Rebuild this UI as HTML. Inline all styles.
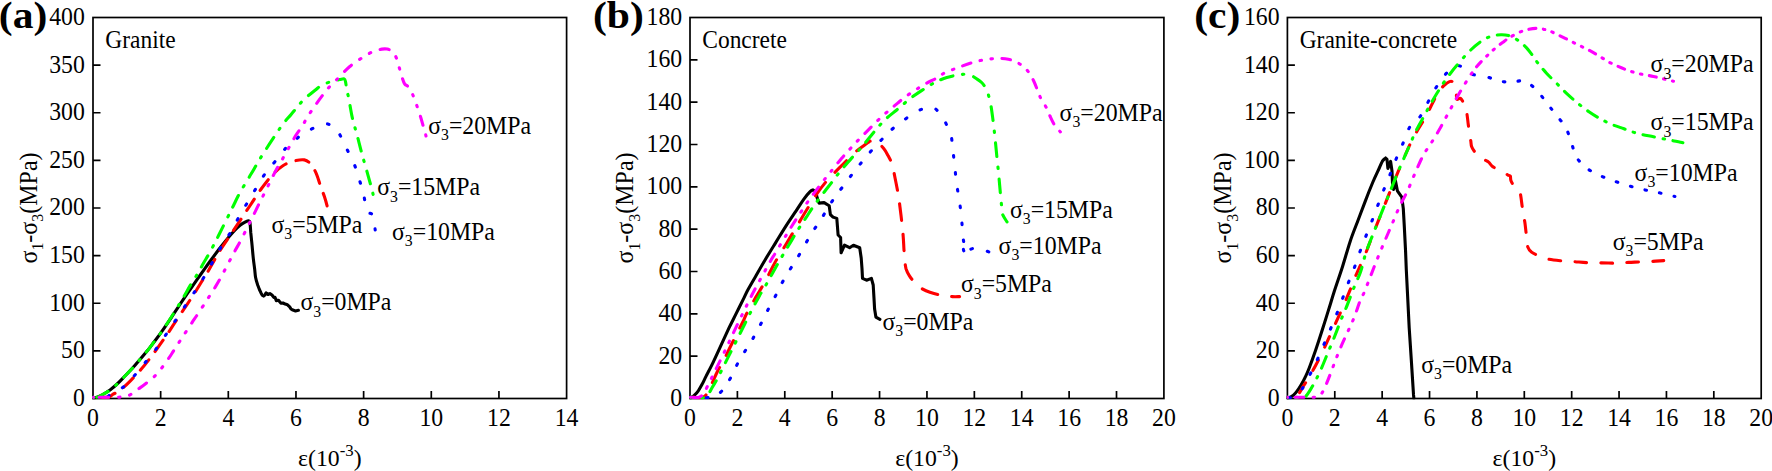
<!DOCTYPE html>
<html><head><meta charset="utf-8"><title>Stress-strain curves</title>
<style>
html,body{margin:0;padding:0;background:#fff;}
svg{display:block;}
text{font-family:"Liberation Serif",serif;fill:#000;}
.t{font-size:23.75px;}
.h{font-size:23.45px;}
.l{font-size:23.8px;}
.b{font-size:40px;font-weight:bold;}
.ax{stroke:#000;stroke-width:1.7;fill:none;}
.c{fill:none;stroke-width:3.1;stroke-linejoin:round;stroke-linecap:round;}
</style></head><body>
<svg width="1772" height="471" viewBox="0 0 1772 471">
<rect width="1772" height="471" fill="#fff"/>

<g>
<clipPath id="cp0"><rect x="92.15" y="16.65" width="475.3" height="382.7"/></clipPath>
<rect class="ax" x="93.0" y="17.5" width="473.6" height="381.0"/>
<text class="t" transform="translate(93.00,425.80) scale(1,1.07)" text-anchor="middle">0</text>
<text class="t" transform="translate(160.66,425.80) scale(1,1.07)" text-anchor="middle">2</text>
<text class="t" transform="translate(228.31,425.80) scale(1,1.07)" text-anchor="middle">4</text>
<text class="t" transform="translate(295.97,425.80) scale(1,1.07)" text-anchor="middle">6</text>
<text class="t" transform="translate(363.63,425.80) scale(1,1.07)" text-anchor="middle">8</text>
<text class="t" transform="translate(431.29,425.80) scale(1,1.07)" text-anchor="middle">10</text>
<text class="t" transform="translate(498.94,425.80) scale(1,1.07)" text-anchor="middle">12</text>
<text class="t" transform="translate(566.60,425.80) scale(1,1.07)" text-anchor="middle">14</text>
<text class="t" transform="translate(84.80,405.90) scale(1,1.07)" text-anchor="end">0</text>
<text class="t" transform="translate(84.80,358.27) scale(1,1.07)" text-anchor="end">50</text>
<text class="t" transform="translate(84.80,310.65) scale(1,1.07)" text-anchor="end">100</text>
<text class="t" transform="translate(84.80,263.02) scale(1,1.07)" text-anchor="end">150</text>
<text class="t" transform="translate(84.80,215.40) scale(1,1.07)" text-anchor="end">200</text>
<text class="t" transform="translate(84.80,167.78) scale(1,1.07)" text-anchor="end">250</text>
<text class="t" transform="translate(84.80,120.15) scale(1,1.07)" text-anchor="end">300</text>
<text class="t" transform="translate(84.80,72.53) scale(1,1.07)" text-anchor="end">350</text>
<text class="t" transform="translate(84.80,24.90) scale(1,1.07)" text-anchor="end">400</text>
<path class="ax" d="M160.66,398.5v-7.5M228.31,398.5v-7.5M295.97,398.5v-7.5M363.63,398.5v-7.5M431.29,398.5v-7.5M498.94,398.5v-7.5M93.0,350.88h7.5M93.0,303.25h7.5M93.0,255.62h7.5M93.0,208.00h7.5M93.0,160.38h7.5M93.0,112.75h7.5M93.0,65.12h7.5"/>
<g clip-path="url(#cp0)">
<path class="c" d="M93.6,398.2 C94.2,398.0 95.7,397.7 97.0,397.2 C98.3,396.7 99.3,396.4 101.3,395.3 C103.3,394.2 106.4,392.6 108.9,390.8 C111.5,389.0 114.0,386.8 116.6,384.5 C119.1,382.2 121.7,379.4 124.2,376.8 C126.8,374.2 129.3,371.6 131.9,368.8 C134.5,366.0 137.0,363.1 139.5,360.1 C142.0,357.2 144.5,354.3 147.1,351.1 C149.7,347.9 152.2,344.4 154.8,341.0 C157.4,337.6 159.9,334.2 162.4,330.6 C164.9,327.0 167.6,323.1 170.1,319.3 C172.6,315.5 175.1,311.6 177.7,307.8 C180.2,304.0 183.0,299.9 185.4,296.4 C187.8,292.9 189.4,290.5 192.0,286.8 C194.6,283.1 198.0,278.2 201.0,274.0 C204.0,269.8 206.9,265.6 209.9,261.5 C212.9,257.4 216.1,253.1 218.8,249.5 C221.6,245.9 223.9,243.0 226.4,239.9 C228.9,236.8 231.8,233.5 234.1,231.0 C236.4,228.5 238.5,226.5 240.4,225.0 C242.3,223.5 244.1,222.5 245.5,221.8 C246.9,221.1 247.9,220.5 248.7,220.7 C249.4,220.8 249.7,220.7 250.0,222.7 C250.3,224.7 250.5,229.1 250.8,232.9 C251.2,236.7 251.7,241.4 252.1,245.7 C252.5,249.9 252.9,254.6 253.3,258.4 C253.7,262.2 254.2,265.4 254.6,268.6 C255.0,271.8 255.1,274.8 255.6,277.6 C256.1,280.4 257.4,284.0 257.8,285.3 L259.4,289.5 L261.0,292.9 L262.3,295.2 L263.6,296.1 L265.0,294.8 L266.1,292.9 L268.0,294.5 L269.9,293.6 L272.0,295.0 L273.8,297.4 L275.0,297.2 L276.3,300.6 L278.5,300.2 L280.8,303.1 L283.0,303.0 L285.2,304.1 L287.5,304.8 L289.7,306.9 L291.0,309.0 L292.9,310.1 L295.5,310.9 L298.4,310.3" stroke="#000000"/>
<path class="c" d="M93.5,397.2 C95.9,397.2 104.7,397.7 108.0,397.2 C111.3,396.7 111.1,395.3 113.1,394.2 C115.0,393.1 116.8,392.9 119.7,390.7 C122.6,388.5 126.8,384.4 130.4,380.8 C134.0,377.2 137.5,373.5 141.1,369.3 C144.7,365.1 147.8,361.2 151.8,355.9 C155.8,350.5 161.6,342.3 165.2,337.2 C168.8,332.1 170.1,329.9 173.2,325.2 C176.3,320.5 180.3,314.5 183.9,309.1 C187.5,303.8 191.0,298.7 194.6,293.1 C198.2,287.5 202.8,279.7 205.3,275.7 C207.8,271.7 207.2,272.8 209.4,269.0 C211.6,265.2 215.4,258.1 218.7,252.7 C222.0,247.3 225.8,241.9 229.4,236.6 C233.0,231.2 236.5,225.9 240.1,220.6 C243.7,215.2 247.2,209.8 250.8,204.5 C254.4,199.2 257.9,193.4 261.5,188.5 C265.1,183.6 268.6,178.9 272.2,175.1 C275.8,171.3 279.3,168.0 282.9,165.7 C286.5,163.4 290.0,162.2 293.6,161.2 C297.2,160.2 301.4,159.4 304.3,159.9 C307.2,160.4 309.0,162.1 311.0,164.4 C313.0,166.7 314.8,170.2 316.4,173.8 C318.0,177.4 319.1,182.0 320.4,185.8 C321.7,189.6 323.3,193.2 324.4,196.5 C325.5,199.8 326.7,204.3 327.1,205.9" stroke="#ff0000" stroke-dasharray="0.0 9.2 13.5 10.5 13.5 10.5 13.5 10.5 13.5 10.5 13.5 10.5 13.5 10.5 13.5 10.5 13.5 10.5 13.5 10.5 13.5 10.5 13.5 10.5 13.5 10.5 13.5 10.5 13.5 10.5 13.5 10.5 13.5 482.65244760460325"/>
<path class="c" d="M93.5,397.2 C95.6,397.2 103.0,397.8 106.0,397.2 C109.0,396.6 108.7,395.1 111.7,393.4 C114.7,391.6 120.0,389.7 123.8,386.7 C127.6,383.7 130.9,379.5 134.5,375.5 C138.1,371.5 141.6,367.0 145.2,362.6 C148.8,358.2 151.2,355.7 155.9,349.2 C160.6,342.7 167.2,332.7 173.2,323.8 C179.2,314.9 187.5,302.4 192.0,295.7 C196.5,289.0 197.3,287.9 200.0,283.7 C202.7,279.4 205.3,274.9 208.0,270.2 C210.7,265.5 213.5,260.4 216.2,255.7 C218.9,251.0 221.4,246.3 224.1,242.0 C226.8,237.7 229.4,234.5 232.1,229.9 C234.8,225.3 237.3,219.6 240.1,214.7 C242.9,209.8 245.8,205.3 248.7,200.5 C251.6,195.7 254.6,190.6 257.5,185.8 C260.4,181.0 263.4,175.9 266.3,171.9 C269.2,167.9 271.7,165.6 274.9,161.7 C278.1,157.8 282.5,151.7 285.6,148.3 C288.7,144.9 290.9,143.7 293.6,141.4 C296.3,139.1 298.7,136.7 301.6,134.7 C304.5,132.7 307.9,130.9 311.0,129.3 C314.1,127.7 317.6,126.2 320.4,125.3 C323.2,124.4 325.7,123.5 327.9,124.0 C330.1,124.5 331.8,126.4 333.7,128.0 C335.6,129.6 337.1,130.2 339.1,133.4 C341.1,136.6 343.4,142.1 345.8,147.0 C348.2,151.9 351.6,157.8 353.8,163.1 C356.0,168.4 357.6,173.8 359.2,179.1 C360.8,184.4 362.4,189.8 363.7,195.2 C365.0,200.5 365.7,207.9 367.2,211.2 C368.7,214.5 371.2,212.1 372.5,215.2 C373.8,218.3 374.8,227.4 375.2,229.9" stroke="#0000ff" stroke-dasharray="0.0 14.5 1.6 15.4 1.6 15.4 1.6 15.4 1.6 15.4 1.6 15.4 1.6 15.4 1.6 15.4 1.6 15.4 1.6 15.4 1.6 15.4 1.6 15.4 1.6 15.4 1.6 15.4 1.6 15.4 1.6 15.4 1.6 15.4 1.6 15.4 1.6 15.4 1.6 15.4 1.6 15.4 1.6 15.4 1.6 15.4 1.6 15.4 1.6 15.4 1.6 15.4 1.6 15.4 1.6 15.4 1.6 15.4 1.6 592.0027714142109"/>
<path class="c" d="M93.6,397.2 C94.2,397.2 95.7,397.5 97.0,397.2 C98.3,396.9 99.3,396.4 101.3,395.3 C103.3,394.2 106.4,392.6 108.9,390.8 C111.5,389.0 114.0,386.8 116.6,384.5 C119.1,382.2 121.7,379.4 124.2,376.8 C126.8,374.2 129.3,371.6 131.9,368.8 C134.5,366.0 137.0,363.1 139.5,360.1 C142.0,357.2 144.5,354.3 147.1,351.1 C149.7,347.9 152.2,344.4 154.8,341.0 C157.4,337.6 159.9,334.3 162.4,330.6 C164.9,326.9 167.6,322.9 170.1,319.0 C172.6,315.1 175.1,311.1 177.5,307.2 C179.9,303.3 182.3,299.3 184.5,295.5 C186.7,291.7 188.5,288.3 190.8,284.5 C193.1,280.7 196.4,275.8 198.4,272.5 C200.4,269.2 201.0,267.5 202.7,264.5 C204.4,261.5 206.5,258.1 208.6,254.5 C210.7,250.8 213.3,245.8 215.0,242.6 C216.7,239.3 217.3,238.0 218.8,235.0 C220.3,232.0 222.0,228.6 223.9,224.8 C225.8,221.0 228.6,215.4 230.3,212.0 C232.0,208.6 232.5,207.4 234.1,204.2 C235.7,201.0 237.4,197.2 239.7,193.0 C242.0,188.8 245.7,183.1 248.1,179.0 C250.5,174.9 252.5,171.7 254.2,168.7 C255.9,165.7 257.0,163.7 258.5,161.2 C260.0,158.7 261.1,157.0 263.1,153.9 C265.1,150.8 268.1,146.0 270.3,142.6 C272.6,139.2 274.6,136.2 276.6,133.3 C278.6,130.4 279.8,128.2 282.2,125.0 C284.6,121.8 288.6,117.4 291.1,114.4 C293.7,111.4 295.4,109.3 297.5,106.8 C299.6,104.3 300.9,102.3 303.9,99.5 C306.9,96.7 312.4,92.4 315.4,90.0 C318.4,87.6 318.9,86.8 321.7,85.3 C324.4,83.8 328.9,82.2 331.9,81.3 C334.9,80.3 337.6,80.0 339.6,79.6 C341.7,79.2 343.2,78.5 344.2,78.9 C345.2,79.3 345.2,80.4 345.6,82.2 C346.0,84.0 346.3,87.1 346.8,89.9 C347.3,92.7 348.0,94.5 348.8,98.8 C349.6,103.0 350.9,111.0 351.8,115.4 C352.7,119.9 353.5,122.3 354.4,125.5 C355.2,128.7 355.8,130.5 356.9,134.5 C358.0,138.5 359.8,145.7 360.8,149.7 C361.9,153.7 362.1,154.6 363.2,158.4 C364.3,162.2 365.9,167.7 367.2,172.4 C368.5,177.1 370.2,183.1 371.2,186.8 C372.2,190.5 372.8,193.1 373.1,194.4" stroke="#00ff00" stroke-dasharray="0.0 3.16 12.83 9.77 1.5 9.77 12.83 9.77 1.5 9.77 12.83 9.77 1.5 9.77 12.83 9.77 1.5 9.76 12.83 9.76 1.5 9.76 12.83 9.76 1.5 9.76 12.83 9.76 1.5 9.76 12.83 9.76 1.5 9.76 12.83 9.76 1.5 9.76 12.83 9.76 1.5 9.76 12.83 9.76 1.5 9.76 12.83 9.76 1.5 9.76 12.83 9.76 1.5 9.76 12.83 9.76 1.5 9.76 12.83 9.76 1.5 9.76 12.83 9.76 1.5 635.186669458145"/>
<path class="c" d="M93.5,397.2 C96.2,397.2 105.7,397.2 110.0,397.2 C114.3,397.2 116.3,397.4 119.1,397.2 C121.9,397.0 124.9,396.6 126.8,396.2 C128.7,395.8 128.9,395.5 130.6,394.5 C132.3,393.5 134.7,391.7 137.0,390.0 C139.3,388.3 142.0,386.5 144.6,384.5 C147.2,382.5 150.2,380.3 152.8,377.9 C155.4,375.5 157.5,373.3 159.9,370.3 C162.3,367.3 165.4,363.1 167.5,360.1 C169.6,357.1 170.8,355.2 172.6,352.4 C174.4,349.6 176.7,346.0 178.5,343.2 C180.3,340.4 181.7,338.2 183.5,335.5 C185.3,332.8 187.4,329.6 189.2,326.9 C191.0,324.2 192.8,321.4 194.3,319.2 C195.8,317.0 196.2,316.4 198.1,313.5 C200.0,310.6 203.6,305.2 205.7,302.0 C207.8,298.8 208.9,296.9 210.5,294.5 C212.1,292.1 213.3,290.3 215.0,287.5 C216.7,284.7 218.5,281.8 220.8,277.5 C223.1,273.2 226.6,266.6 229.0,262.0 C231.4,257.4 233.5,253.6 235.4,250.1 C237.3,246.6 238.3,245.1 240.4,241.1 C242.5,237.1 245.8,230.6 248.1,225.9 C250.4,221.2 252.5,217.1 254.5,213.1 C256.5,209.1 258.2,205.5 260.1,201.7 C262.0,197.9 263.3,195.4 265.9,190.2 C268.5,185.0 273.5,175.0 275.9,170.4 C278.3,165.8 278.8,165.6 280.4,162.8 C282.0,160.1 283.5,157.1 285.3,153.9 C287.1,150.7 289.3,146.9 291.1,143.7 C292.9,140.5 294.3,137.8 296.2,134.8 C298.1,131.8 300.9,128.2 302.6,125.5 C304.3,122.8 304.8,121.3 306.4,118.7 C308.0,116.1 310.1,112.9 312.0,110.1 C313.9,107.3 315.6,104.8 317.9,101.7 C320.1,98.6 323.4,94.2 325.5,91.5 C327.6,88.8 328.8,87.5 330.6,85.6 C332.4,83.7 333.2,83.1 336.4,79.9 C339.6,76.7 345.3,70.3 349.8,66.5 C354.3,62.7 359.2,59.6 363.2,57.1 C367.2,54.6 370.8,52.5 373.9,51.2 C377.0,49.9 379.7,49.5 381.9,49.1 C384.1,48.8 385.4,48.7 387.2,49.1 C389.0,49.5 391.0,50.2 392.6,51.8 C394.2,53.4 395.5,55.8 396.6,58.5 C397.7,61.2 398.4,64.7 399.3,67.8 C400.2,70.9 401.1,74.5 402.0,77.2 C402.9,79.9 403.5,82.2 404.6,83.9 C405.7,85.6 407.2,85.3 408.6,87.1 C410.0,88.9 411.4,91.6 412.7,94.6 C414.0,97.6 415.4,101.5 416.7,105.3 C418.0,109.1 419.6,113.7 420.7,117.3 C421.8,120.9 422.5,123.6 423.4,126.7 C424.3,129.8 425.6,134.4 426.0,136.0" stroke="#ff00ff" stroke-dasharray="0.0 5.74 9.27 9.99 1.5 9.99 1.5 9.99 9.27 9.99 1.5 9.99 1.5 9.99 9.27 9.99 1.5 9.99 1.5 9.99 9.27 9.99 1.5 9.99 1.5 9.99 9.27 9.99 1.5 9.99 1.5 9.99 9.27 9.99 1.5 9.99 1.5 9.99 9.27 9.99 1.5 9.99 1.5 9.99 9.27 9.99 1.5 9.99 1.5 9.99 9.27 9.99 1.5 9.99 1.5 9.99 9.27 9.99 1.5 9.99 1.5 9.99 9.27 9.99 1.5 9.99 1.5 9.99 9.27 9.99 1.5 9.99 1.5 9.99 9.27 9.99 1.5 9.99 1.5 9.99 9.27 9.99 1.5 675.5798216980571"/>
</g>
<text class="b" transform="translate(-1.20,28.00) scale(1.04,0.93)">(a)</text>
<text class="h" transform="translate(105.30,47.60) scale(1,1.07)">Granite</text>
<text class="t" transform="translate(329.80,466.00) scale(1,1.0)" text-anchor="middle">ε(10<tspan font-size="16.8" dy="-9.7">-3</tspan><tspan dy="9.7">)</tspan></text>
<text class="t" transform="translate(36.5,208) rotate(-90) scale(1.01,1.06)" text-anchor="middle">σ<tspan font-size="15.8" dy="6.3">1</tspan><tspan dy="-6.3">-σ</tspan><tspan font-size="15.8" dy="6.3">3</tspan><tspan dy="-6.3">(MPa)</tspan></text>
<text class="l" transform="translate(428.20,133.70) scale(1,1.07)">σ<tspan font-size="15.8" dy="6">3</tspan><tspan dy="-6">=20MPa</tspan></text>
<text class="l" transform="translate(377.20,195.10) scale(1,1.07)">σ<tspan font-size="15.8" dy="6">3</tspan><tspan dy="-6">=15MPa</tspan></text>
<text class="l" transform="translate(271.40,232.70) scale(1,1.07)">σ<tspan font-size="15.8" dy="6">3</tspan><tspan dy="-6">=5MPa</tspan></text>
<text class="l" transform="translate(392.00,239.50) scale(1,1.07)">σ<tspan font-size="15.8" dy="6">3</tspan><tspan dy="-6">=10MPa</tspan></text>
<text class="l" transform="translate(300.40,310.10) scale(1,1.07)">σ<tspan font-size="15.8" dy="6">3</tspan><tspan dy="-6">=0MPa</tspan></text>
</g>
<g>
<clipPath id="cp1"><rect x="689.15" y="16.65" width="475.6000000000001" height="382.7"/></clipPath>
<rect class="ax" x="690.0" y="17.5" width="473.9000000000001" height="381.0"/>
<text class="t" transform="translate(690.00,425.80) scale(1,1.07)" text-anchor="middle">0</text>
<text class="t" transform="translate(737.39,425.80) scale(1,1.07)" text-anchor="middle">2</text>
<text class="t" transform="translate(784.78,425.80) scale(1,1.07)" text-anchor="middle">4</text>
<text class="t" transform="translate(832.17,425.80) scale(1,1.07)" text-anchor="middle">6</text>
<text class="t" transform="translate(879.56,425.80) scale(1,1.07)" text-anchor="middle">8</text>
<text class="t" transform="translate(926.95,425.80) scale(1,1.07)" text-anchor="middle">10</text>
<text class="t" transform="translate(974.34,425.80) scale(1,1.07)" text-anchor="middle">12</text>
<text class="t" transform="translate(1021.73,425.80) scale(1,1.07)" text-anchor="middle">14</text>
<text class="t" transform="translate(1069.12,425.80) scale(1,1.07)" text-anchor="middle">16</text>
<text class="t" transform="translate(1116.51,425.80) scale(1,1.07)" text-anchor="middle">18</text>
<text class="t" transform="translate(1163.90,425.80) scale(1,1.07)" text-anchor="middle">20</text>
<text class="t" transform="translate(682.20,405.90) scale(1,1.07)" text-anchor="end">0</text>
<text class="t" transform="translate(682.20,363.57) scale(1,1.07)" text-anchor="end">20</text>
<text class="t" transform="translate(682.20,321.23) scale(1,1.07)" text-anchor="end">40</text>
<text class="t" transform="translate(682.20,278.90) scale(1,1.07)" text-anchor="end">60</text>
<text class="t" transform="translate(682.20,236.57) scale(1,1.07)" text-anchor="end">80</text>
<text class="t" transform="translate(682.20,194.23) scale(1,1.07)" text-anchor="end">100</text>
<text class="t" transform="translate(682.20,151.90) scale(1,1.07)" text-anchor="end">120</text>
<text class="t" transform="translate(682.20,109.57) scale(1,1.07)" text-anchor="end">140</text>
<text class="t" transform="translate(682.20,67.23) scale(1,1.07)" text-anchor="end">160</text>
<text class="t" transform="translate(682.20,24.90) scale(1,1.07)" text-anchor="end">180</text>
<path class="ax" d="M737.39,398.5v-7.5M784.78,398.5v-7.5M832.17,398.5v-7.5M879.56,398.5v-7.5M926.95,398.5v-7.5M974.34,398.5v-7.5M1021.73,398.5v-7.5M1069.12,398.5v-7.5M1116.51,398.5v-7.5M690.0,356.17h7.5M690.0,313.83h7.5M690.0,271.50h7.5M690.0,229.17h7.5M690.0,186.83h7.5M690.0,144.50h7.5M690.0,102.17h7.5M690.0,59.83h7.5"/>
<g clip-path="url(#cp1)">
<path class="c" d="M690.6,398.2 C691.2,397.7 693.2,396.4 694.5,395.2 C695.8,394.0 697.0,392.6 698.3,390.8 C699.6,389.0 700.8,386.7 702.1,384.3 C703.4,381.9 704.1,380.2 706.0,376.4 C707.9,372.6 711.1,366.6 713.6,361.3 C716.1,356.0 718.7,350.3 721.2,344.8 C723.8,339.3 726.4,333.5 728.9,328.2 C731.4,322.9 734.0,318.0 736.5,312.9 C739.0,307.8 742.2,301.4 744.1,297.6 C746.0,293.8 745.9,293.4 747.8,290.0 C749.7,286.6 752.3,282.1 755.3,277.0 C758.2,271.9 762.1,264.9 765.5,259.2 C768.9,253.5 772.3,248.1 775.7,242.6 C779.1,237.1 782.5,231.4 785.9,226.1 C789.3,220.8 793.1,215.3 796.1,210.8 C799.1,206.3 801.4,202.5 803.7,199.3 C806.0,196.1 808.5,193.3 810.1,191.7 C811.7,190.1 812.6,190.2 813.1,189.9 L815.7,191.7 L817.2,198.0 L819.0,203.1 L824.1,202.6 L829.2,205.7 L830.4,214.6 L833.0,217.1 L836.8,218.4 L838.1,235.0 L840.6,237.5 L841.1,252.8 L844.5,245.2 L849.6,247.7 L853.4,245.2 L859.7,247.7 L861.2,258.0 L862.0,268.7 L862.5,278.4 L866.5,280.2 L871.4,278.4 L873.2,285.0 L874.0,298.4 L874.6,309.1 L875.9,317.1 L879.9,319.3" stroke="#000000"/>
<path class="c" d="M690.5,397.2 C692.6,397.2 700.0,398.3 703.0,397.2 C706.0,396.1 706.1,394.9 708.5,390.6 C710.9,386.3 715.1,376.2 717.4,371.5 C719.7,366.8 720.4,366.6 722.5,362.6 C724.6,358.6 728.0,351.6 730.1,347.3 C732.2,343.1 733.1,341.4 735.2,337.1 C737.3,332.9 741.0,325.7 742.9,321.8 C744.8,317.9 744.6,317.5 746.7,313.5 C748.8,309.5 752.5,303.1 755.6,297.6 C758.7,292.2 762.3,286.7 765.5,280.8 C768.7,274.9 771.6,268.6 775.0,262.5 C778.4,256.4 782.5,250.2 785.9,244.5 C789.3,238.8 791.9,234.5 795.5,228.5 C799.1,222.5 803.9,214.3 807.5,208.5 C811.1,202.7 813.6,198.3 817.0,193.5 C820.4,188.7 824.6,183.3 827.9,179.5 C831.2,175.7 833.9,173.3 836.6,170.6 C839.3,167.8 841.2,166.0 844.2,163.0 C847.2,160.0 851.2,155.6 854.4,152.8 C857.6,150.0 861.0,147.7 863.3,146.0 C865.6,144.3 866.6,143.4 868.0,142.5 C869.4,141.6 870.1,141.0 871.5,140.8 C872.9,140.6 874.6,140.2 876.6,141.5 C878.6,142.8 881.8,146.2 883.7,148.5 C885.6,150.8 886.6,152.9 888.0,155.5 C889.4,158.1 891.0,160.9 892.1,164.3 C893.2,167.7 893.6,170.8 894.6,175.7 C895.6,180.6 897.2,188.6 898.1,193.8 C899.0,199.1 899.4,202.3 900.0,207.2 C900.6,212.1 901.4,218.3 901.9,223.2 C902.4,228.1 902.9,232.1 903.2,236.6 C903.6,241.1 903.7,246.0 904.0,250.0 C904.3,254.0 904.4,257.5 904.8,260.7 C905.1,263.9 905.4,266.5 906.1,269.0 C906.9,271.5 907.9,273.5 909.3,275.7 C910.7,277.9 912.5,280.2 914.7,282.4 C916.9,284.6 920.0,287.4 922.7,289.1 C925.4,290.8 927.6,291.5 930.7,292.5 C933.8,293.5 937.8,294.5 941.4,295.2 C945.0,295.9 949.1,296.4 952.1,296.6 C955.1,296.8 958.4,296.6 959.6,296.6" stroke="#ff0000" stroke-dasharray="16.4 14.0 16.5 14.0 16.5 14.0 16.5 14.0 16.5 14.0 16.5 14.0 16.5 14.0 16.5 14.0 16.5 14.0 16.5 14.0 16.5 14.0 16.5 14.0 16.5 14.0 16.5 14.0 16.5 14.0 16.5 14.0 16.5 14.0 16.5 626.646510197906"/>
<path class="c" d="M690.5,397.2 C694.1,397.2 706.7,398.3 712.0,397.2 C717.3,396.1 719.1,393.8 722.1,390.7 C725.1,387.6 727.4,383.4 730.1,378.7 C732.8,374.0 735.4,367.5 738.1,362.6 C740.8,357.7 743.7,353.2 746.2,349.2 C748.7,345.2 750.5,342.7 752.9,338.5 C755.3,334.3 758.4,328.5 760.9,323.8 C763.4,319.1 765.1,315.2 767.6,310.5 C770.1,305.8 773.2,300.4 775.6,295.7 C778.0,291.0 779.8,286.8 782.3,282.4 C784.8,277.9 787.8,273.0 790.3,269.0 C792.8,265.0 794.5,262.7 797.0,258.6 C799.5,254.5 802.3,249.2 805.0,244.6 C807.7,240.0 810.3,235.5 813.0,231.3 C815.7,227.1 818.4,223.4 821.1,219.2 C823.8,215.0 826.4,210.1 829.1,205.9 C831.8,201.7 834.9,196.9 837.1,193.8 C839.3,190.7 840.3,190.0 842.5,187.1 C844.7,184.2 847.6,180.2 850.5,176.4 C853.4,172.6 856.5,168.5 859.9,164.4 C863.2,160.3 867.0,155.7 870.6,151.6 C874.2,147.5 877.7,143.7 881.3,140.0 C884.9,136.3 888.2,132.6 892.0,129.3 C895.8,126.0 900.0,122.9 904.0,120.0 C908.0,117.1 912.4,114.0 916.0,112.0 C919.6,110.0 922.7,108.7 925.4,107.9 C928.1,107.1 930.1,106.6 932.1,107.1 C934.1,107.5 935.6,108.9 937.4,110.6 C939.2,112.3 941.2,114.8 942.8,117.3 C944.4,119.8 945.5,122.6 946.8,125.3 C948.1,128.0 949.8,129.6 950.8,133.4 C951.8,137.2 952.0,142.7 952.7,148.3 C953.4,153.9 954.1,161.1 954.8,167.1 C955.5,173.1 955.9,178.9 956.7,184.5 C957.5,190.1 958.6,194.9 959.4,200.5 C960.2,206.1 960.9,212.1 961.5,217.9 C962.1,223.7 962.4,231.1 962.8,235.3 C963.2,239.5 963.6,240.6 963.9,243.3 C964.2,246.0 962.3,250.5 964.4,251.3 C966.5,252.1 971.8,247.7 976.2,247.9 C980.6,248.1 988.5,251.9 990.9,252.7" stroke="#0000ff" stroke-dasharray="1.6 14.17 1.6 14.17 1.6 14.17 1.6 14.17 1.6 14.17 1.6 14.17 1.6 14.17 1.6 14.17 1.6 14.17 1.6 14.17 1.6 14.17 1.6 14.17 1.6 14.17 1.6 14.17 1.6 14.17 1.6 14.17 1.6 14.17 1.6 14.17 1.6 14.17 1.6 14.17 1.6 14.17 1.6 14.17 1.6 15.4 1.6 15.4 1.6 15.4 1.6 15.4 1.6 15.4 1.6 15.4 1.6 15.4 1.6 15.4 1.6 15.4 1.6 15.4 1.6 15.4 1.6 7.7 1.6 7.7 1.6 15.4 1.6 689.1970784053268"/>
<path class="c" d="M690.5,397.2 C692.9,397.2 701.3,398.9 705.0,397.2 C708.7,395.4 710.3,390.4 712.7,386.7 C715.1,382.9 717.0,379.4 719.4,374.7 C721.8,370.0 724.7,364.0 727.4,358.6 C730.1,353.2 732.8,348.0 735.5,342.6 C738.2,337.2 740.8,331.9 743.5,326.5 C746.2,321.1 748.8,315.6 751.5,310.5 C754.2,305.4 757.0,300.2 759.5,295.7 C762.0,291.2 764.8,287.0 766.8,283.5 C768.8,280.0 769.5,278.7 771.8,274.5 C774.1,270.3 778.0,263.3 780.8,258.5 C783.6,253.7 785.8,250.1 788.4,245.8 C791.0,241.5 794.0,236.3 796.1,232.8 C798.2,229.3 799.4,227.6 801.1,225.0 C802.8,222.4 804.1,220.6 806.2,217.4 C808.3,214.2 810.9,209.9 813.9,205.7 C816.9,201.5 821.1,196.1 824.1,192.2 C827.1,188.3 829.6,185.2 831.7,182.4 C833.8,179.6 834.9,178.0 836.8,175.6 C838.7,173.2 840.4,171.0 842.9,168.1 C845.4,165.2 849.2,160.8 851.8,157.9 C854.3,155.1 856.3,153.1 858.2,151.0 C860.1,148.9 861.0,148.0 863.3,145.2 C865.6,142.4 869.6,137.4 872.2,134.2 C874.8,131.0 876.8,128.6 879.1,126.0 C881.4,123.4 883.3,121.2 886.2,118.6 C889.1,116.0 893.5,112.6 896.4,110.2 C899.3,107.8 901.0,106.1 903.6,104.0 C906.2,101.9 908.7,99.7 911.7,97.4 C914.8,95.1 918.7,92.5 921.9,90.4 C925.1,88.3 928.2,86.3 930.8,84.8 C933.3,83.3 934.5,82.4 937.2,81.2 C939.9,80.0 943.4,78.6 946.8,77.6 C950.2,76.6 954.4,75.5 957.5,75.0 C960.6,74.5 963.3,74.2 965.5,74.3 C967.7,74.3 969.1,74.6 970.9,75.3 C972.7,76.0 974.4,77.3 976.2,78.5 C978.0,79.7 980.0,80.9 981.6,82.5 C983.2,84.1 984.5,85.9 985.6,87.9 C986.7,89.9 987.4,91.7 988.3,94.6 C989.2,97.5 990.1,101.3 990.9,105.3 C991.6,109.3 992.2,114.1 992.8,118.6 C993.4,123.0 993.9,128.0 994.4,132.0 C994.9,136.0 995.0,138.2 995.5,142.7 C996.0,147.2 996.5,153.2 997.1,159.0 C997.7,164.8 998.5,172.2 999.0,177.8 C999.5,183.4 999.9,187.8 1000.3,192.5 C1000.7,197.2 1001.2,202.3 1001.6,205.9 C1002.0,209.5 1001.5,211.2 1002.4,213.9 C1003.3,216.6 1006.2,220.6 1007.0,221.9" stroke="#00ff00" stroke-dasharray="1.82 9.45 1.5 9.45 12.42 9.45 1.5 9.45 12.42 9.45 1.5 9.45 12.42 9.45 1.5 9.45 12.42 9.45 1.5 9.45 12.42 9.45 1.5 9.45 12.42 9.45 1.5 9.45 12.42 9.45 1.5 9.45 12.42 9.45 1.5 9.45 12.42 9.45 1.5 9.45 12.42 9.45 1.5 9.45 12.42 9.45 1.5 9.45 12.42 9.45 1.5 9.45 12.42 9.45 1.5 10.5 13.8 10.5 1.5 10.5 13.8 10.5 1.5 10.5 13.8 10.5 1.5 10.5 13.8 10.5 1.5 10.5 13.8 703.387351738026"/>
<path class="c" d="M690.5,397.2 C691.9,397.2 696.8,397.8 699.0,397.2 C701.2,396.6 702.1,395.2 703.5,393.5 C704.9,391.8 705.3,390.5 707.2,386.8 C709.1,383.1 712.0,377.1 714.8,371.5 C717.6,365.9 720.8,359.4 723.8,353.2 C726.8,347.0 729.5,341.0 732.7,334.3 C735.9,327.6 739.9,319.3 742.9,313.2 C745.9,307.1 748.4,301.9 750.5,297.8 C752.6,293.7 752.0,294.5 755.3,288.5 C758.6,282.5 766.7,267.7 770.1,261.7 C773.5,255.7 772.9,257.2 775.7,252.5 C778.5,247.8 783.6,239.3 787.1,233.7 C790.6,228.0 793.8,222.9 796.6,218.6 C799.4,214.3 801.5,211.2 803.7,207.8 C806.0,204.5 806.8,203.0 810.1,198.5 C813.4,194.0 820.1,185.1 823.3,181.0 C826.5,176.9 827.4,176.1 829.2,173.8 C831.0,171.6 831.9,170.1 834.0,167.5 C836.1,164.9 839.4,161.0 841.7,158.3 C844.0,155.6 845.9,153.5 848.0,151.2 C850.1,148.8 852.3,146.5 854.4,144.2 C856.5,141.9 858.5,139.9 860.8,137.5 C863.1,135.1 865.9,132.4 868.4,129.9 C870.9,127.4 873.0,125.0 875.5,122.6 C878.0,120.2 880.8,117.6 883.2,115.4 C885.6,113.2 887.7,111.5 890.1,109.5 C892.5,107.5 895.2,105.2 897.7,103.1 C900.2,101.0 902.5,98.9 905.4,96.8 C908.2,94.7 912.0,92.3 914.8,90.5 C917.5,88.7 919.2,87.4 921.9,85.8 C924.6,84.2 928.0,82.4 930.8,81.0 C933.6,79.6 936.3,78.5 938.5,77.2 C940.7,75.9 940.9,74.8 944.1,73.2 C947.3,71.6 953.0,69.5 957.5,67.8 C962.0,66.1 966.4,64.3 970.9,63.0 C975.4,61.7 979.8,60.5 984.2,59.8 C988.7,59.0 993.6,58.6 997.6,58.5 C1001.6,58.4 1005.2,58.7 1008.3,59.3 C1011.4,59.9 1013.8,60.7 1016.3,61.9 C1018.8,63.1 1021.0,64.8 1023.0,66.5 C1025.0,68.2 1026.7,69.5 1028.4,71.8 C1030.2,74.1 1031.8,77.1 1033.5,80.5 C1035.2,83.9 1037.0,89.3 1038.3,92.4 C1039.6,95.5 1039.9,96.8 1041.3,99.3 C1042.7,101.8 1045.0,105.0 1046.4,107.7 C1047.8,110.4 1048.3,112.4 1049.7,115.4 C1051.1,118.4 1053.0,122.8 1054.8,125.5 C1056.6,128.2 1059.5,130.8 1060.4,131.9" stroke="#ff00ff" stroke-dasharray="0.0 2.56 8.73 9.41 1.5 9.41 1.5 9.41 8.73 9.41 1.5 9.41 1.5 9.41 8.73 9.41 1.5 9.41 1.5 9.41 8.73 9.41 1.5 9.41 1.5 9.41 8.73 9.41 1.5 9.41 1.5 9.41 8.73 9.41 1.5 9.41 1.5 9.41 8.73 9.41 1.5 9.41 1.5 9.41 8.73 9.41 1.5 9.41 1.5 9.41 8.73 9.41 1.5 9.41 1.5 9.41 8.73 9.41 1.5 9.41 1.5 9.41 8.73 9.41 1.5 9.41 1.5 9.41 8.73 9.41 1.5 9.41 1.5 9.41 8.73 9.41 1.5 9.41 1.5 9.41 8.73 9.41 1.5 9.41 1.5 9.41 8.73 9.41 1.5 681.5781138328753"/>
</g>
<text class="b" transform="translate(593.00,28.00) scale(1.04,0.93)">(b)</text>
<text class="h" transform="translate(702.30,47.60) scale(1,1.07)">Concrete</text>
<text class="t" transform="translate(926.95,466.00) scale(1,1.0)" text-anchor="middle">ε(10<tspan font-size="16.8" dy="-9.7">-3</tspan><tspan dy="9.7">)</tspan></text>
<text class="t" transform="translate(633.0,208) rotate(-90) scale(1.01,1.06)" text-anchor="middle">σ<tspan font-size="15.8" dy="6.3">1</tspan><tspan dy="-6.3">-σ</tspan><tspan font-size="15.8" dy="6.3">3</tspan><tspan dy="-6.3">(MPa)</tspan></text>
<text class="l" transform="translate(1059.60,120.90) scale(1,1.07)">σ<tspan font-size="15.8" dy="6">3</tspan><tspan dy="-6">=20MPa</tspan></text>
<text class="l" transform="translate(1009.90,217.60) scale(1,1.07)">σ<tspan font-size="15.8" dy="6">3</tspan><tspan dy="-6">=15MPa</tspan></text>
<text class="l" transform="translate(998.60,253.80) scale(1,1.07)">σ<tspan font-size="15.8" dy="6">3</tspan><tspan dy="-6">=10MPa</tspan></text>
<text class="l" transform="translate(960.90,292.20) scale(1,1.07)">σ<tspan font-size="15.8" dy="6">3</tspan><tspan dy="-6">=5MPa</tspan></text>
<text class="l" transform="translate(882.40,329.80) scale(1,1.07)">σ<tspan font-size="15.8" dy="6">3</tspan><tspan dy="-6">=0MPa</tspan></text>
</g>
<g>
<clipPath id="cp2"><rect x="1286.5500000000002" y="16.65" width="475.49999999999994" height="382.7"/></clipPath>
<rect class="ax" x="1287.4" y="17.5" width="473.79999999999995" height="381.0"/>
<text class="t" transform="translate(1287.40,425.80) scale(1,1.07)" text-anchor="middle">0</text>
<text class="t" transform="translate(1334.78,425.80) scale(1,1.07)" text-anchor="middle">2</text>
<text class="t" transform="translate(1382.16,425.80) scale(1,1.07)" text-anchor="middle">4</text>
<text class="t" transform="translate(1429.54,425.80) scale(1,1.07)" text-anchor="middle">6</text>
<text class="t" transform="translate(1476.92,425.80) scale(1,1.07)" text-anchor="middle">8</text>
<text class="t" transform="translate(1524.30,425.80) scale(1,1.07)" text-anchor="middle">10</text>
<text class="t" transform="translate(1571.68,425.80) scale(1,1.07)" text-anchor="middle">12</text>
<text class="t" transform="translate(1619.06,425.80) scale(1,1.07)" text-anchor="middle">14</text>
<text class="t" transform="translate(1666.44,425.80) scale(1,1.07)" text-anchor="middle">16</text>
<text class="t" transform="translate(1713.82,425.80) scale(1,1.07)" text-anchor="middle">18</text>
<text class="t" transform="translate(1761.20,425.80) scale(1,1.07)" text-anchor="middle">20</text>
<text class="t" transform="translate(1279.60,405.90) scale(1,1.07)" text-anchor="end">0</text>
<text class="t" transform="translate(1279.60,358.27) scale(1,1.07)" text-anchor="end">20</text>
<text class="t" transform="translate(1279.60,310.65) scale(1,1.07)" text-anchor="end">40</text>
<text class="t" transform="translate(1279.60,263.02) scale(1,1.07)" text-anchor="end">60</text>
<text class="t" transform="translate(1279.60,215.40) scale(1,1.07)" text-anchor="end">80</text>
<text class="t" transform="translate(1279.60,167.78) scale(1,1.07)" text-anchor="end">100</text>
<text class="t" transform="translate(1279.60,120.15) scale(1,1.07)" text-anchor="end">120</text>
<text class="t" transform="translate(1279.60,72.53) scale(1,1.07)" text-anchor="end">140</text>
<text class="t" transform="translate(1279.60,24.90) scale(1,1.07)" text-anchor="end">160</text>
<path class="ax" d="M1334.78,398.5v-7.5M1382.16,398.5v-7.5M1429.54,398.5v-7.5M1476.92,398.5v-7.5M1524.30,398.5v-7.5M1571.68,398.5v-7.5M1619.06,398.5v-7.5M1666.44,398.5v-7.5M1713.82,398.5v-7.5M1287.4,350.88h7.5M1287.4,303.25h7.5M1287.4,255.62h7.5M1287.4,208.00h7.5M1287.4,160.38h7.5M1287.4,112.75h7.5M1287.4,65.12h7.5"/>
<g clip-path="url(#cp2)">
<path class="c" d="M1287.6,398.3 C1288.2,398.0 1290.2,397.4 1291.5,396.5 C1292.8,395.6 1294.0,394.6 1295.3,393.2 C1296.6,391.8 1297.8,390.0 1299.1,388.1 C1300.4,386.2 1301.8,383.6 1302.9,381.7 C1304.0,379.8 1304.4,378.9 1305.5,376.6 C1306.6,374.3 1307.6,372.1 1309.3,367.7 C1311.0,363.2 1313.6,356.0 1315.7,349.9 C1317.8,343.8 1319.9,337.4 1322.0,330.8 C1324.1,324.2 1326.4,317.0 1328.4,310.4 C1330.5,303.8 1332.0,298.5 1334.3,291.3 C1336.6,284.1 1339.8,275.2 1342.4,267.0 C1345.0,258.8 1347.5,249.5 1350.0,241.9 C1352.5,234.3 1355.0,228.3 1357.6,221.5 C1360.1,214.7 1362.8,207.7 1365.3,201.1 C1367.8,194.5 1370.6,187.5 1372.9,182.0 C1375.2,176.5 1377.7,171.5 1379.3,168.0 C1380.9,164.5 1381.4,162.9 1382.4,161.2 C1383.5,159.5 1385.1,158.5 1385.6,158.0 L1387.0,159.4 L1387.9,168.4 L1390.6,161.4 L1392.0,171.0 L1392.5,183.1 L1393.6,189.5 L1395.4,180.6 L1397.4,190.8 L1401.8,197.1 L1403.3,208.6 L1404.3,226.4 L1405.6,251.9 L1406.3,269.7 L1407.6,295.7 L1409.2,327.8 L1411.3,359.9 L1413.5,394.7 L1413.9,398.5" stroke="#000000"/>
<path class="c" d="M1287.5,397.2 C1288.9,397.2 1293.4,398.9 1296.0,397.2 C1298.6,395.4 1300.7,390.2 1303.0,386.7 C1305.3,383.2 1307.5,379.8 1309.7,376.0 C1311.9,372.2 1314.2,368.2 1316.4,364.0 C1318.6,359.8 1320.9,355.3 1323.1,350.6 C1325.3,345.9 1327.6,340.8 1329.8,335.9 C1332.0,331.0 1334.3,326.1 1336.5,321.2 C1338.7,316.3 1341.0,311.5 1343.2,306.4 C1345.4,301.3 1347.9,295.3 1349.9,290.4 C1351.9,285.5 1353.7,280.6 1355.2,277.0 C1356.7,273.4 1356.9,273.1 1358.7,269.0 C1360.5,264.9 1363.6,258.3 1365.9,252.7 C1368.2,247.1 1370.1,241.6 1372.6,235.3 C1375.0,229.1 1377.9,221.9 1380.6,215.2 C1383.3,208.5 1385.9,201.9 1388.6,195.2 C1391.3,188.5 1394.0,181.6 1396.7,175.1 C1399.4,168.6 1402.4,161.8 1404.7,156.4 C1407.0,151.1 1408.4,147.5 1410.6,143.0 C1412.8,138.5 1415.5,133.8 1418.1,129.3 C1420.7,124.8 1423.6,120.5 1426.1,116.0 C1428.5,111.5 1430.8,106.5 1432.8,102.6 C1434.8,98.7 1436.1,95.5 1438.1,92.6 C1440.0,89.7 1442.6,86.8 1444.5,85.0 C1446.4,83.2 1448.2,82.1 1449.5,81.6 C1450.8,81.1 1451.6,80.9 1452.5,82.0 C1453.4,83.1 1454.4,86.1 1455.0,88.0 C1455.6,89.9 1456.0,91.6 1456.3,93.5 C1456.6,95.4 1456.2,98.5 1456.9,99.3 C1457.6,100.1 1459.3,97.6 1460.5,98.4 C1461.7,99.2 1463.0,101.8 1464.0,104.0 C1465.0,106.2 1465.8,108.2 1466.5,111.5 C1467.2,114.8 1467.7,119.9 1468.2,124.0 C1468.8,128.1 1469.4,133.2 1469.8,136.0 C1470.2,138.8 1470.5,139.2 1470.8,141.0 C1471.1,142.8 1471.0,144.8 1471.6,146.5 C1472.2,148.2 1473.2,149.8 1474.4,151.4 C1475.6,153.0 1477.4,154.6 1479.0,156.0 C1480.6,157.4 1482.6,158.7 1484.2,159.7 C1485.8,160.7 1487.3,161.0 1488.6,162.1 C1489.9,163.2 1490.6,165.0 1492.2,166.2 C1493.8,167.4 1496.0,168.5 1498.0,169.5 C1500.0,170.5 1502.3,171.3 1504.0,172.2 C1505.7,173.1 1506.9,174.5 1507.9,175.1 C1509.0,175.7 1509.8,175.1 1510.3,176.0 C1510.8,176.9 1510.3,178.8 1510.9,180.5 C1511.5,182.2 1512.7,184.3 1514.0,186.0 C1515.3,187.7 1517.4,189.2 1518.5,190.5 C1519.6,191.8 1519.8,191.2 1520.4,193.9 C1521.0,196.6 1521.7,203.2 1522.2,206.6 C1522.7,210.0 1523.1,211.9 1523.5,214.5 C1523.9,217.1 1524.3,218.8 1524.8,222.1 C1525.3,225.4 1525.9,231.3 1526.3,234.5 C1526.7,237.7 1526.9,238.9 1527.2,241.0 C1527.5,243.1 1527.2,245.4 1527.9,247.2 C1528.6,249.0 1529.6,250.5 1531.2,251.8 C1532.8,253.2 1535.1,254.1 1537.8,255.3 C1540.5,256.5 1543.4,258.0 1547.4,258.9 C1551.4,259.8 1557.2,260.4 1561.6,260.9 C1566.0,261.3 1569.6,261.3 1573.8,261.6 C1578.0,261.9 1582.3,262.4 1586.5,262.6 C1590.7,262.8 1593.4,262.7 1598.7,262.8 C1604.0,262.9 1613.5,263.3 1618.5,263.2 C1623.5,263.1 1625.0,262.6 1628.7,262.4 C1632.4,262.2 1636.5,262.1 1640.4,261.9 C1644.3,261.7 1648.1,261.6 1652.0,261.4 C1655.9,261.2 1661.8,260.7 1663.7,260.6" stroke="#ff0000" stroke-dasharray="0.1 14.5 11.5 14.5 11.5 14.5 11.5 14.5 11.5 14.5 11.5 14.5 11.5 14.5 11.5 14.5 11.5 14.5 11.5 14.5 11.5 14.5 11.5 14.5 11.5 14.5 11.5 14.5 11.5 14.5 11.5 14.5 11.5 14.5 11.5 14.5 11.5 14.5 11.5 14.5 11.5 14.5 11.5 14.5 11.5 14.5 11.5 14.5 11.5 14.5 11.5 14.5 11.5 14.5 11.5 802.0061717210283"/>
<path class="c" d="M1287.5,397.2 C1288.4,397.2 1290.6,398.5 1293.0,397.2 C1295.4,395.9 1299.0,392.8 1301.7,389.4 C1304.4,385.9 1306.5,381.0 1308.9,376.5 C1311.3,372.0 1313.6,367.5 1315.9,362.6 C1318.2,357.8 1320.4,352.5 1322.6,347.4 C1324.8,342.3 1327.1,337.2 1329.3,331.9 C1331.5,326.6 1333.8,321.3 1336.0,315.8 C1338.2,310.3 1340.3,304.6 1342.4,299.0 C1344.5,293.4 1346.6,287.4 1348.5,282.4 C1350.4,277.4 1352.0,274.1 1353.9,269.0 C1355.8,263.9 1357.8,257.6 1359.8,252.1 C1361.8,246.6 1363.9,241.3 1365.9,236.1 C1368.0,230.8 1370.1,225.8 1372.1,220.6 C1374.1,215.4 1376.0,210.2 1377.9,205.1 C1379.9,200.0 1381.8,194.9 1383.8,189.8 C1385.8,184.7 1388.0,179.7 1390.0,174.6 C1392.0,169.5 1394.0,164.1 1396.1,159.0 C1398.2,153.9 1400.4,149.6 1402.6,144.3 C1404.8,139.1 1407.2,131.3 1409.5,127.5 C1411.8,123.7 1414.5,123.9 1416.7,121.3 C1418.9,118.7 1420.6,116.0 1422.9,112.0 C1425.2,108.0 1428.0,101.9 1430.6,97.2 C1433.2,92.5 1435.5,88.1 1438.4,83.9 C1441.3,79.7 1444.6,74.8 1448.0,71.8 C1451.4,68.8 1455.1,65.3 1459.0,65.7 C1462.9,66.1 1467.2,72.2 1471.6,74.0 C1476.0,75.8 1480.8,75.2 1485.5,76.4 C1490.2,77.6 1495.3,80.3 1499.7,81.2 C1504.1,82.1 1507.7,82.0 1511.7,82.0 C1515.8,82.0 1520.0,80.0 1524.0,81.2 C1528.0,82.4 1532.0,85.6 1535.8,89.2 C1539.5,92.8 1543.2,98.4 1546.5,102.6 C1549.8,106.8 1552.6,110.4 1555.8,114.6 C1559.0,118.8 1563.0,122.5 1565.7,127.5 C1568.4,132.4 1570.2,139.5 1571.9,144.3 C1573.6,149.1 1573.9,152.8 1575.9,156.4 C1577.9,160.0 1581.0,163.0 1583.9,165.7 C1586.8,168.4 1589.7,170.4 1593.3,172.4 C1596.9,174.4 1601.1,176.1 1605.3,177.8 C1609.5,179.5 1614.0,181.1 1618.7,182.6 C1623.4,184.1 1628.5,185.8 1633.4,187.1 C1638.3,188.4 1643.4,189.6 1648.1,190.6 C1652.8,191.6 1657.0,192.3 1661.5,193.3 C1666.0,194.3 1672.7,196.0 1674.9,196.5" stroke="#0000ff" stroke-dasharray="0.0 1.54 1.6 14.94 1.6 14.94 1.6 14.94 1.6 14.94 1.6 14.94 1.6 14.94 1.6 14.94 1.6 14.94 1.6 14.94 1.6 14.94 1.6 14.94 1.6 14.94 1.6 14.94 1.6 14.94 1.6 14.94 1.6 14.94 1.6 14.94 1.6 14.94 1.6 14.94 1.6 14.94 1.6 14.94 1.6 14.94 1.6 14.94 1.6 14.94 1.6 14.94 1.6 13.24 1.6 13.24 1.6 13.24 1.6 13.24 1.6 13.24 1.6 13.24 1.6 13.24 1.6 13.24 1.6 13.24 1.6 13.24 1.6 13.24 1.6 13.24 1.6 13.24 1.6 13.24 1.6 13.24 1.6 13.24 1.6 754.0233697790494"/>
<path class="c" d="M1287.5,397.2 C1290.1,397.2 1299.7,397.6 1303.0,397.2 C1306.3,396.8 1305.3,396.9 1307.1,394.7 C1308.9,392.5 1311.5,388.0 1313.7,384.0 C1315.9,380.0 1318.2,375.5 1320.4,370.6 C1322.6,365.7 1324.9,360.0 1327.1,354.6 C1329.3,349.2 1331.6,344.1 1333.8,338.5 C1336.0,332.9 1338.3,326.8 1340.5,321.2 C1342.7,315.6 1345.0,310.7 1347.2,305.1 C1349.4,299.5 1351.7,293.3 1353.9,287.7 C1356.1,282.1 1358.6,277.5 1360.6,271.7 C1362.6,265.9 1363.9,258.8 1365.9,252.7 C1367.9,246.6 1370.1,241.6 1372.6,235.3 C1375.0,229.1 1377.9,221.9 1380.6,215.2 C1383.3,208.5 1385.9,201.9 1388.6,195.2 C1391.3,188.5 1394.0,181.6 1396.7,175.1 C1399.4,168.6 1402.4,161.8 1404.7,156.4 C1407.0,151.1 1408.8,147.1 1410.6,143.0 C1412.4,138.9 1413.3,136.3 1415.4,132.0 C1417.5,127.7 1420.7,122.2 1423.4,117.3 C1426.1,112.4 1428.7,107.3 1431.4,102.6 C1434.1,97.9 1436.8,93.4 1439.5,89.2 C1442.2,85.0 1444.4,81.4 1447.5,77.2 C1450.6,73.0 1454.6,68.0 1458.2,63.8 C1461.8,59.6 1465.3,55.4 1468.9,51.8 C1472.5,48.2 1476.0,44.9 1479.6,42.4 C1483.2,39.9 1486.7,37.8 1490.3,36.5 C1493.9,35.2 1497.9,34.8 1501.0,34.7 C1504.1,34.6 1506.3,34.9 1509.0,35.7 C1511.7,36.5 1514.3,37.9 1517.0,39.7 C1519.7,41.5 1522.6,44.0 1525.1,46.4 C1527.6,48.8 1529.6,51.5 1531.8,54.4 C1534.0,57.3 1536.0,60.7 1538.4,63.8 C1540.9,66.9 1543.4,69.8 1546.5,73.2 C1549.6,76.6 1553.6,80.3 1557.2,83.9 C1560.8,87.5 1564.3,91.3 1567.9,94.6 C1571.5,97.9 1575.0,101.0 1578.6,103.9 C1582.2,106.8 1585.7,109.5 1589.3,112.0 C1592.9,114.5 1596.4,116.6 1600.0,118.6 C1603.6,120.6 1606.7,122.3 1610.7,124.0 C1614.7,125.7 1619.5,127.2 1624.0,128.8 C1628.5,130.4 1632.5,132.1 1637.4,133.4 C1642.3,134.7 1648.2,135.7 1653.5,136.8 C1658.8,137.9 1664.6,139.0 1669.5,140.0 C1674.4,141.0 1680.7,142.2 1682.9,142.7" stroke="#00ff00" stroke-dasharray="0.0 8.28 1.5 9.24 12.14 9.24 1.5 9.24 12.14 9.24 1.5 9.24 12.14 9.24 1.5 9.24 12.14 9.24 1.5 9.24 12.14 9.24 1.5 9.24 12.14 9.24 1.5 9.24 12.14 9.24 1.5 9.24 12.14 9.24 1.5 9.24 12.14 9.24 1.5 9.24 12.14 9.24 1.5 9.24 12.14 9.24 1.5 9.24 12.14 9.24 1.5 9.24 12.14 8.71 1.5 8.71 11.45 8.71 1.5 8.71 11.45 8.71 1.5 8.71 11.45 8.72 1.5 8.72 11.45 8.72 1.5 8.72 11.45 8.72 1.5 8.72 11.45 8.72 1.5 8.72 11.45 8.72 1.5 8.72 11.45 758.5373439654267"/>
<path class="c" d="M1287.5,397.2 C1290.4,397.2 1300.4,397.2 1305.0,397.2 C1309.6,397.2 1312.6,397.4 1315.0,397.2 C1317.4,397.0 1317.9,397.5 1319.5,396.0 C1321.1,394.5 1322.5,392.6 1324.6,388.1 C1326.7,383.6 1329.8,375.2 1332.2,369.0 C1334.6,362.8 1336.7,357.0 1339.1,351.1 C1341.5,345.2 1344.3,339.3 1346.8,333.8 C1349.3,328.3 1351.7,323.6 1353.9,318.0 C1356.2,312.4 1358.6,304.4 1360.3,300.2 C1362.0,295.9 1362.3,296.7 1364.1,292.5 C1365.9,288.3 1368.7,280.9 1371.0,275.0 C1373.3,269.1 1375.6,263.0 1378.0,257.2 C1380.4,251.4 1382.8,245.6 1385.2,240.0 C1387.6,234.4 1389.9,229.1 1392.3,223.5 C1394.7,217.9 1397.2,211.6 1399.7,206.2 C1402.2,200.8 1404.8,196.7 1407.4,191.1 C1410.0,185.5 1412.7,178.4 1415.4,172.4 C1418.1,166.4 1420.7,159.9 1423.4,155.0 C1426.1,150.1 1428.7,147.0 1431.4,142.7 C1434.1,138.4 1436.8,134.0 1439.5,129.3 C1442.2,124.6 1444.8,119.5 1447.5,114.6 C1450.2,109.7 1452.6,105.0 1455.5,99.9 C1458.4,94.8 1461.8,88.9 1464.9,83.9 C1468.0,78.9 1471.2,73.8 1474.2,69.8 C1477.2,65.8 1480.0,62.9 1482.7,60.0 C1485.4,57.1 1488.1,54.8 1490.4,52.6 C1492.7,50.4 1494.4,48.9 1496.7,47.0 C1499.0,45.1 1502.3,42.8 1504.4,41.2 C1506.5,39.6 1506.9,39.1 1509.4,37.6 C1511.9,36.1 1516.4,33.6 1519.6,32.2 C1522.8,30.8 1525.4,30.0 1528.5,29.4 C1531.6,28.8 1535.2,28.2 1538.4,28.4 C1541.6,28.6 1544.7,29.4 1547.8,30.4 C1550.9,31.4 1553.8,32.8 1557.2,34.4 C1560.6,36.0 1564.3,37.9 1567.9,39.7 C1571.5,41.5 1575.0,43.3 1578.6,45.1 C1582.2,46.9 1585.7,48.5 1589.3,50.4 C1592.9,52.3 1596.4,54.5 1600.0,56.6 C1603.6,58.7 1607.1,61.1 1610.7,63.0 C1614.3,64.9 1617.8,66.3 1621.4,67.8 C1625.0,69.3 1628.5,70.7 1632.1,71.8 C1635.7,72.9 1639.2,73.7 1642.8,74.5 C1646.4,75.3 1649.9,75.6 1653.5,76.4 C1657.1,77.2 1660.9,78.3 1664.2,79.1 C1667.5,79.9 1672.0,80.8 1673.5,81.2" stroke="#ff00ff" stroke-dasharray="0.0 7.69 8.55 9.21 1.5 9.21 1.5 9.21 8.55 9.22 1.5 9.22 1.5 9.22 8.55 9.22 1.5 9.22 1.5 9.22 8.55 9.22 1.5 9.22 1.5 9.22 8.55 9.22 1.5 9.22 1.5 9.22 8.55 9.22 1.5 9.22 1.5 9.22 8.55 9.22 1.5 9.21 1.5 9.21 8.55 9.21 1.5 9.21 1.5 9.21 8.55 9.21 1.5 9.21 1.5 9.21 8.55 9.21 1.5 9.21 1.5 7.57 7.02 7.57 1.5 7.57 1.5 7.57 7.02 7.57 1.5 7.57 1.5 7.57 7.02 7.57 1.5 7.57 1.5 7.57 7.02 7.57 1.5 7.57 1.5 7.57 7.02 7.57 1.5 7.57 1.5 7.57 7.02 7.57 1.5 7.57 1.5 7.57 7.02 7.57 1.5 7.57 1.5 719.3697475512931"/>
</g>
<text class="b" transform="translate(1194.20,28.00) scale(1.04,0.93)">(c)</text>
<text class="h" transform="translate(1299.70,47.60) scale(1,1.07)">Granite-concrete</text>
<text class="t" transform="translate(1524.30,466.00) scale(1,1.0)" text-anchor="middle">ε(10<tspan font-size="16.8" dy="-9.7">-3</tspan><tspan dy="9.7">)</tspan></text>
<text class="t" transform="translate(1231.3,208) rotate(-90) scale(1.01,1.06)" text-anchor="middle">σ<tspan font-size="15.8" dy="6.3">1</tspan><tspan dy="-6.3">-σ</tspan><tspan font-size="15.8" dy="6.3">3</tspan><tspan dy="-6.3">(MPa)</tspan></text>
<text class="l" transform="translate(1650.60,72.40) scale(1,1.07)">σ<tspan font-size="15.8" dy="6">3</tspan><tspan dy="-6">=20MPa</tspan></text>
<text class="l" transform="translate(1650.60,130.20) scale(1,1.07)">σ<tspan font-size="15.8" dy="6">3</tspan><tspan dy="-6">=15MPa</tspan></text>
<text class="l" transform="translate(1634.60,180.60) scale(1,1.07)">σ<tspan font-size="15.8" dy="6">3</tspan><tspan dy="-6">=10MPa</tspan></text>
<text class="l" transform="translate(1612.70,249.90) scale(1,1.07)">σ<tspan font-size="15.8" dy="6">3</tspan><tspan dy="-6">=5MPa</tspan></text>
<text class="l" transform="translate(1421.20,372.80) scale(1,1.07)">σ<tspan font-size="15.8" dy="6">3</tspan><tspan dy="-6">=0MPa</tspan></text>
</g>
</svg></body></html>
